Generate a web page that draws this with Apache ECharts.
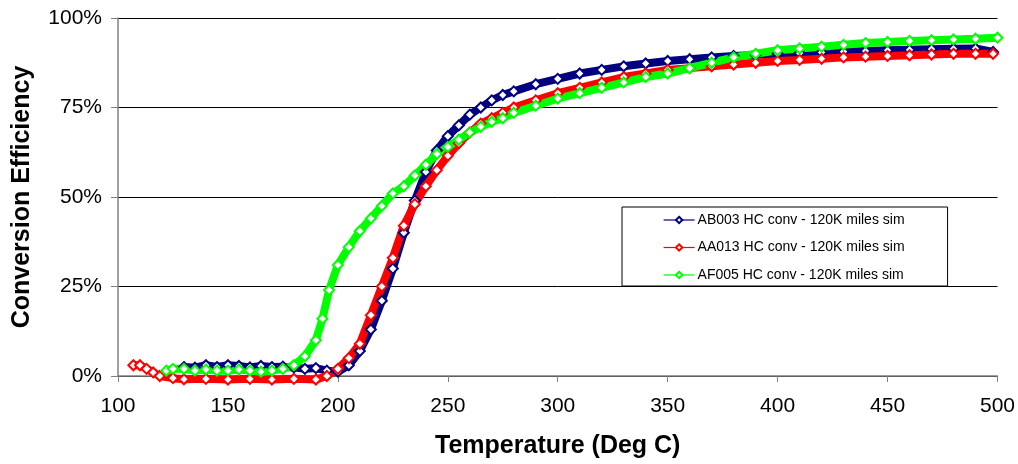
<!DOCTYPE html>
<html><head><meta charset="utf-8">
<script src="https://cdn.jsdelivr.net/npm/echarts@6/dist/echarts.min.js"></script>
<style>html,body{margin:0;padding:0;background:#fff}#c{width:1018px;height:464px}</style>
</head><body><div id="c"></div>
<script>
const seriesNames = ['AB003 HC conv - 120K miles sim','AA013 HC conv - 120K miles sim','AF005 HC conv - 120K miles sim'];
const xTicks = [100,150,200,250,300,350,400,450,500];
const yTicks = [0,25,50,75,100];
// [temperature degC, conversion %]
const ab003 = [[130,2.5],[135,2.3],[140,3],[145,2.5],[150,3],[155,2.8],[160,2.4],[165,2.8],[170,2.5],[175,2.6],[180,2.4],[185,2],[190,2.2],[195,1.5],[200,1.2],[205,3],[210,7],[215,13],[220,21],[225,30],[230,40],[235,49],[240,57],[245,63],[250,67],[255,70],[260,73],[265,75],[270,77],[275,78.5],[280,79.5],[290,81.5],[300,83],[310,84.5],[320,85.5],[330,86.5],[340,87.3],[350,88],[360,88.5],[370,89],[380,89.4],[390,89.7],[400,90],[410,90.2],[420,90.4],[430,90.6],[440,90.8],[450,91],[460,91.1],[470,91.3],[480,91.4],[490,91.5],[498,90.5]];
const aa013 = [[107,3],[110,3],[113,2],[116,1],[119,0],[125,-0.6],[130,-0.9],[140,-0.8],[150,-1],[160,-0.8],[170,-1],[180,-0.8],[190,-1],[195,0],[200,2],[205,5],[210,9],[215,17],[220,25],[225,33],[230,42],[235,48],[240,53],[245,57.5],[250,61.5],[255,65],[260,68],[265,70.5],[270,72],[275,73.5],[280,75],[290,77],[300,79],[310,80.5],[320,82],[330,83.5],[340,84.5],[350,85.5],[360,86],[370,86.5],[380,87],[390,87.5],[400,88],[410,88.3],[420,88.6],[430,89],[440,89.2],[450,89.4],[460,89.6],[470,89.8],[480,90],[490,90],[498,90]];
const af005 = [[122,1.5],[125,2],[130,2],[135,1.5],[140,1.8],[145,1.5],[150,1.5],[155,1.8],[160,1.5],[165,1.2],[170,1.5],[175,2],[180,3],[185,5.5],[190,10],[193,16],[196,24],[200,31],[205,36],[210,40.5],[215,44],[220,47.5],[225,51],[230,53],[235,56],[240,59],[245,62],[250,64],[255,66],[260,68],[265,69.6],[270,71],[275,72],[280,73.5],[290,75.5],[300,77.5],[310,79],[320,80.5],[330,82],[340,83.5],[350,84.5],[360,86],[370,87.5],[380,89],[390,90],[400,91],[410,91.5],[420,92],[430,92.5],[440,93],[450,93.3],[460,93.6],[470,93.8],[480,94],[490,94.2],[500,94.5]];
const colors = ['#000080','#ff0000','#00ff00'];

const font = '"Liberation Sans", Arial, sans-serif';
function mk(name, data, color){
  return {
    name, type:'line', data, clip:false,
    symbol:'emptyDiamond', symbolSize:10, showAllSymbol:true,
    lineStyle:{color, width:8},
    itemStyle:{color, borderColor:color, borderWidth:1.5},
    emphasis:{disabled:true}, animation:false
  };
}
const chart = echarts.init(document.getElementById('c'));
chart.setOption({
  animation:false,
  color:colors,
  grid:{left:118,right:18,top:18,bottom:87},
  legend:{
    orient:'vertical', left:622, top:207,
    padding:[6,43,4,41], itemGap:13.5, itemWidth:31, itemHeight:8,
    backgroundColor:'#fff', borderColor:'#000', borderWidth:1,
    lineStyle:{width:1.2},
    itemStyle:{borderWidth:1.2},
    textStyle:{fontFamily:font, fontSize:14, color:'#000', padding:[0,0,0,-2]},
    data:seriesNames
  },
  xAxis:{
    type:'value', min:xTicks[0], max:xTicks[xTicks.length-1], interval:50,
    name:'Temperature (Deg C)', nameLocation:'middle', nameGap:58,
    nameTextStyle:{fontFamily:font, fontSize:25, fontWeight:'bold', color:'#000'},
    axisLine:{show:true, onZero:false, lineStyle:{color:'#808080', width:1.5}},
    axisTick:{show:true, length:6, lineStyle:{color:'#808080'}},
    axisLabel:{fontFamily:font, fontSize:21, color:'#000', margin:20},
    splitLine:{show:false}
  },
  yAxis:{
    type:'value', min:yTicks[0], max:yTicks[yTicks.length-1], interval:25,
    name:'Conversion Efficiency', nameLocation:'middle', nameGap:83, nameRotate:90,
    nameTextStyle:{fontFamily:font, fontSize:25, fontWeight:'bold', color:'#000'},
    axisLine:{show:true, lineStyle:{color:'#808080', width:1.5}},
    axisTick:{show:true, length:7, lineStyle:{color:'#808080'}},
    axisLabel:{fontFamily:font, fontSize:21, color:'#000', margin:16, formatter:v=>v+'%'},
    splitLine:{show:true, lineStyle:{color:'#000', width:1}}
  },
  series:[mk(seriesNames[0],ab003,colors[0]), mk(seriesNames[1],aa013,colors[1]), mk(seriesNames[2],af005,colors[2])]
});
</script></body></html>
